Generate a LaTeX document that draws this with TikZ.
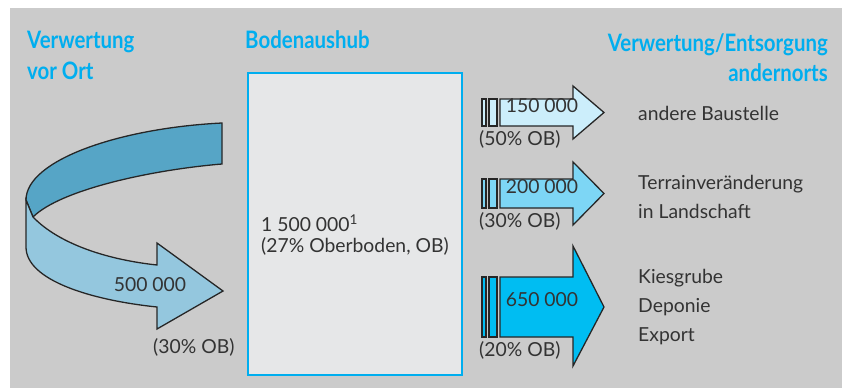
\documentclass[tikz,border=0pt]{standalone}
\usepackage{fontspec}
\setmainfont{Lato}
\newfontfamily\headfont[FakeStretch=0.85]{Lato Bold}
\usetikzlibrary{positioning}

\definecolor{bggrey}{HTML}{CBCBCB}
\definecolor{boxgrey}{HTML}{E6E7E8}
\definecolor{headblue}{HTML}{00AEEF}
\definecolor{txtgrey}{HTML}{333333}
\definecolor{bandtop}{HTML}{56A5C6}
\definecolor{bandfront}{HTML}{94C7DE}
\definecolor{flowA}{HTML}{CCEEFB}
\definecolor{flowB}{HTML}{7DD6F5}
\definecolor{flowC}{HTML}{00BDF2}

\begin{document}
\begin{tikzpicture}[x=0.03cm, y=-0.03cm,
    heading/.style={text=headblue, font=\headfont\fontsize{20.5}{26}\selectfont, inner sep=0pt},
    label/.style={text=txtgrey, font=\fontsize{16.5}{24.7}\selectfont, inner sep=0pt},
    outline/.style={draw=black!85, line width=1.1pt, line join=miter}]
    \useasboundingbox (0,0) rectangle (842,388);
    \fill[bggrey] (10,8) rectangle (842,388);

    % Headings
    \node[heading, anchor=north west, align=left] (head-ort) at (27,31) {Verwertung\\vor Ort};
    \node[heading, anchor=north west] (head-aushub) at (245,30) {Bodenaushub};
    \node[heading, anchor=north east, align=right] (head-andernorts) at (828,33) {Verwertung/Entsorgung\\andernorts};

    % Excavated soil
    \draw[headblue, line width=2.2pt, fill=boxgrey] (248,73) rectangle (462,375);
    \node[label, anchor=west, align=left, font=\fontsize{16.5}{18}\selectfont] (aushub) at (261,235)
        {1 500 000\textsuperscript{1}\\(27\% Oberboden, OB)};

    % On-site reuse (folded band)
    \draw[outline, fill=bandtop] (222,123) .. controls (120,128) and (26,160) .. (26,200)
        -- (33,217) .. controls (60,190) and (150,170) .. (222,164) -- cycle;
    \draw[outline, fill=bandfront] (26,200) -- (33,217) .. controls (60,245) and (110,260) .. (157,265)
        -- (157,243) -- (223,291) -- (157,329) -- (157,307)
        .. controls (90,300) and (26,280) .. (26,247) -- cycle;
    \node[label] (ort-val) at (150,285) {500 000};
    \node[label, anchor=west] (ort-ob) at (153,347) {(30\% OB)};

    % Transport elsewhere
    \foreach \yt/\yb/\ht/\hb/\col/\val/\ob/\n in
        {99/126/86/139/flowA/150 000/50/1,
         179/208/162/225/flowB/200 000/30/2,
         277/337/246/366/flowC/650 000/20/3} {
        \draw[outline, fill=\col] (482,\yt) rectangle (486,\yb);
        \draw[outline, fill=\col] (489,\yt) rectangle (497,\yb);
        \draw[outline, fill=\col] (500,\yt) -- (573,\yt) -- (573,\ht) -- (604,{(\yt+\yb)/2})
            -- (573,\hb) -- (573,\yb) -- (500,\yb) -- cycle;
        \node[label] (flow-\n) at (542,{(\yt+\yb)/2}) {\val};
        \node[label, anchor=west] (share-\n) at (479,\yb+21) {(\ob\% OB)};
    }

    % Destinations
    \node[label, anchor=west] (dest-1) at (638,113) {andere Baustelle};
    \node[label, anchor=west, align=left] (dest-2) at (638,197) {Terrainveränderung\\in Landschaft};
    \node[label, anchor=west, align=left] (dest-3) at (638,307) {Kiesgrube\\Deponie\\Export};
\end{tikzpicture}
\end{document}
